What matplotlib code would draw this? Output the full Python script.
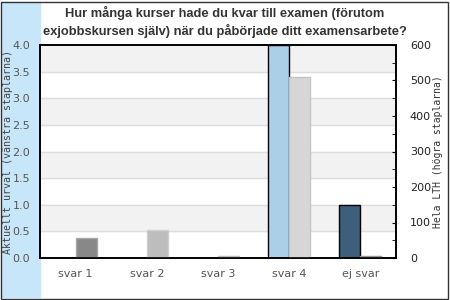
import matplotlib.pyplot as plt
from matplotlib.patches import Rectangle
from matplotlib.ticker import MultipleLocator
import numpy as np

# answers
categories = ['svar 1', 'svar 2', 'svar 3', 'svar 4', 'ej svar']
urval = [0, 0, 0, 4.0, 1.0]          # left axis (Aktuellt urval)
hela_lth = [56, 80, 6, 511, 6]       # right axis (Hela LTH)

urval_colors = ['#888888', '#bbbbbb', '#cccccc', '#abcfe9', '#3e5f7c']
lth_colors = ['#888888', '#bdbdbd', '#cccccc', '#d6d6d6', '#aaaaaa']
lth_edges = ['#a8a8a8', '#cfcfcf', '#bbbbbb', '#c4c4c4', '#999999']

fig = plt.figure(figsize=(4.5, 3.0), dpi=100)

# light blue strip on the left and a thin frame round the figure
fig.patches.append(Rectangle((2 / 450, 3 / 300), 38 / 450, 295 / 300,
                             transform=fig.transFigure, color='#c8e6fa', zorder=-1))
fig.patches.append(Rectangle((1 / 450, 1 / 300), 447 / 450, 297 / 300,
                             transform=fig.transFigure, fill=False,
                             edgecolor='#333333', linewidth=1, zorder=5))

ax = fig.add_axes([40 / 450, 42 / 300, 356 / 450, 213 / 300])
ax2 = ax.twinx()

x = np.arange(len(categories))
w = 0.295

# alternating bands and grid
for lo in np.arange(0.5, 4.0, 1.0):
    ax.axhspan(lo, lo + 0.5, color='#f2f2f2', zorder=0)
for y in np.arange(0.5, 4.0, 0.5):
    ax.axhline(y, color='#dddddd', linewidth=1, zorder=0.5)

for i in range(len(categories)):
    if urval[i] > 0:
        ax.bar(x[i] - w / 2, urval[i], w, color=urval_colors[i],
               edgecolor='black', linewidth=1, zorder=2)
    ax2.bar(x[i] + w / 2, hela_lth[i], w, color=lth_colors[i],
            edgecolor=lth_edges[i], linewidth=1, zorder=2)

ax.set_xlim(-0.5, 4.5)
ax.set_ylim(0, 4)
ax2.set_ylim(0, 600)

ax.set_xticks(x)
ax.set_xticklabels(categories)
ax.yaxis.set_major_locator(MultipleLocator(0.5))
ax.yaxis.set_major_formatter(plt.FormatStrFormatter('%.1f'))
ax.tick_params(axis='both', length=0, labelsize=8, labelcolor='#555555')
ax.tick_params(axis='x', pad=8)
ax.tick_params(axis='y', pad=7)

ax2.yaxis.set_major_locator(MultipleLocator(100))
ax2.yaxis.set_minor_locator(MultipleLocator(50))
ax2.tick_params(axis='y', which='both', direction='in', length=3,
                labelsize=8, labelcolor='#222222', pad=10)

for a in (ax, ax2):
    for s in a.spines.values():
        s.set_color('black')
        s.set_linewidth(1.2)

ax.set_ylabel('Aktuellt urval (vänstra staplarna)', family='DejaVu Sans Mono',
              fontsize=7.2, color='#444444')
ax.yaxis.set_label_coords(-27 / 356, 0.5)
ax2.set_ylabel('Hela LTH (högra staplarna)', family='DejaVu Sans Mono',
               fontsize=7, color='#333333')
ax2.yaxis.set_label_coords(1 + 37 / 356, 0.5)

fig.text(0.5, 1 - 22 / 300,
         'Hur många kurser hade du kvar till examen (förutom\n'
         'exjobbskursen själv) när du påbörjade ditt examensarbete?',
         ha='center', va='center', fontsize=9.3, fontweight='bold',
         family='Liberation Sans', color='#333333', linespacing=1.4)

fig.savefig('out.png', dpi=100)
